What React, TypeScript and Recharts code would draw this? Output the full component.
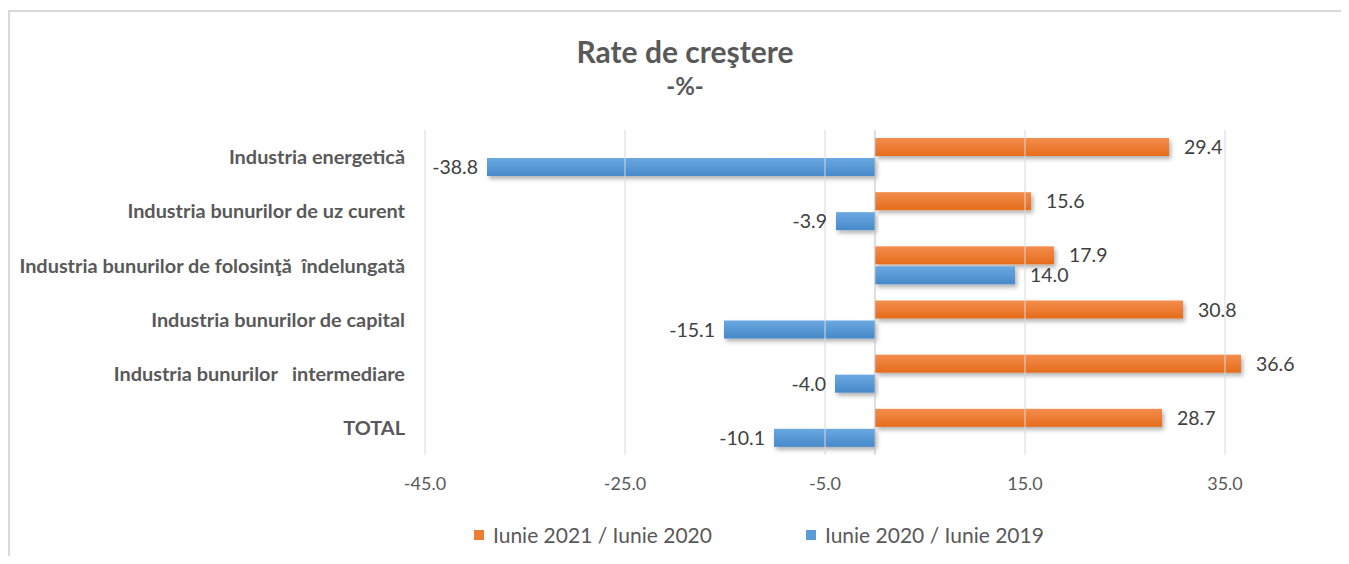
import React from "react";
import {
  ComposedChart,
  Bar,
  XAxis,
  YAxis,
  ReferenceLine,
  LabelList,
} from "recharts";

const categories = [
  "Industria energetică",
  "Industria bunurilor de uz curent",
  "Industria bunurilor de folosinţă  îndelungată",
  "Industria bunurilor de capital",
  "Industria bunurilor   intermediare",
  "TOTAL",
];
const seriesNames = ["Iunie 2021 / Iunie 2020", "Iunie 2020 / Iunie 2019"];
const rate2021 = [29.4, 15.6, 17.9, 30.8, 36.6, 28.7];
const rate2020 = [-38.8, -3.9, 14.0, -15.1, -4.0, -10.1];
const xTicks = [-45, -25, -5, 15, 35];

const data = categories.map((name, i) => ({
  name,
  a: rate2021[i],
  b: rate2020[i],
}));

const FONT = "Lato, 'Liberation Sans', sans-serif";

const BarShape = (props: any) => {
  const { x, y, width, height, fill } = props;
  const x0 = Math.min(x, x + width);
  const w = Math.abs(width);
  return <rect x={x0} y={y} width={w} height={height} fill={fill} filter="url(#barShadow)" />;
};

const ValueLabel = (props: any) => {
  const { x, y, width, height, value } = props;
  const left = Math.min(x, x + width);
  const right = Math.max(x, x + width);
  const neg = value < 0;
  return (
    <text
      x={neg ? left - 9 : right + 15}
      y={y + height / 2}
      dy="0.36em"
      textAnchor={neg ? "end" : "start"}
      fontSize={19.5}
      fontFamily={FONT}
      fill="#404040"
    >
      {Number(value).toFixed(1)}
    </text>
  );
};

const CategoryTick = (props: any) => {
  const { x, y, payload } = props;
  return (
    <text
      x={x}
      y={y}
      dy="0.36em"
      textAnchor="end"
      fontSize={19.9}
      fontWeight={700}
      fontFamily={FONT}
      fill="#595959"
      xmlSpace="preserve"
      style={{ whiteSpace: "pre" }}
    >
      {payload.value}
    </text>
  );
};

export default function App() {
  return (
    <div style={{ position: "relative", width: 1341, height: 548, fontFamily: FONT }}>
      {/* chart border, only top and left visible in the crop */}
      <div
        style={{
          position: "absolute",
          top: 2,
          left: 0,
          width: 1341,
          height: 546,
          borderTop: "2px solid #d9d9d9",
          borderLeft: "2px solid #d9d9d9",
          boxSizing: "border-box",
        }}
      />
      <div
        style={{
          position: "absolute",
          top: 25,
          left: 677,
          transform: "translateX(-50%)",
          fontSize: 30,
          lineHeight: "36px",
          fontWeight: 700,
          color: "#595959",
          whiteSpace: "nowrap",
        }}
      >
        Rate de creştere
      </div>
      <div
        style={{
          position: "absolute",
          top: 63,
          left: 677,
          transform: "translateX(-50%)",
          fontSize: 24,
          lineHeight: "30px",
          fontWeight: 700,
          color: "#595959",
        }}
      >
        -%-
      </div>
      <ComposedChart
        layout="vertical"
        width={1341}
        height={548}
        data={data}
        margin={{ top: 122, right: 24, bottom: 71, left: 0 }}
        barSize={18}
        barGap={2}
      >
        <defs>
          <linearGradient id="gradOrange" x1="0" y1="0" x2="0" y2="1">
            <stop offset="0%" stopColor="#F48D4E" />
            <stop offset="100%" stopColor="#E56C1B" />
          </linearGradient>
          <linearGradient id="gradBlue" x1="0" y1="0" x2="0" y2="1">
            <stop offset="0%" stopColor="#6AA8E0" />
            <stop offset="100%" stopColor="#4689CA" />
          </linearGradient>
          <filter id="barShadow" x="-5%" y="-30%" width="115%" height="180%">
            <feDropShadow dx="2" dy="3" stdDeviation="2" floodColor="#000" floodOpacity="0.3" />
          </filter>
        </defs>
        <XAxis
          type="number"
          domain={[-45, 45]}
          ticks={xTicks}
          tickFormatter={(v: number) => v.toFixed(1)}
          axisLine={false}
          tickLine={false}
          tickSize={0}
          tickMargin={22}
          height={30}
          tick={{ fontSize: 18, fill: "#595959", fontFamily: FONT }}
        />
        <YAxis
          type="category"
          dataKey="name"
          width={417}
          axisLine={false}
          tickLine={false}
          tickSize={0}
          tickMargin={20}
          interval={0}
          tick={<CategoryTick />}
        />
        {/* vertical gridlines at the tick values */}
        {xTicks.map((t) => (
          <ReferenceLine key={t} x={t} stroke="#d9d9d9" strokeWidth={1} />
        ))}
        <ReferenceLine x={0} stroke="#bfbfbf" strokeWidth={1} />
        <Bar dataKey="a" name={seriesNames[0]} fill="url(#gradOrange)" shape={BarShape} isAnimationActive={false}>
          <LabelList dataKey="a" content={ValueLabel} />
        </Bar>
        <Bar dataKey="b" name={seriesNames[1]} fill="url(#gradBlue)" shape={BarShape} isAnimationActive={false}>
          <LabelList dataKey="b" content={ValueLabel} />
        </Bar>
      </ComposedChart>
      <div
        style={{
          position: "absolute",
          top: 515,
          left: 466,
          display: "flex",
          alignItems: "center",
          fontSize: 21,
          lineHeight: "24px",
          color: "#595959",
          whiteSpace: "nowrap",
        }}
      >
        <span style={{ width: 10, height: 10, background: "#ED7D31", marginRight: 9, display: "inline-block" }} />
        <span style={{ marginRight: 94 }}>{seriesNames[0]}</span>
        <span style={{ width: 10, height: 10, background: "#5B9BD5", marginRight: 9, display: "inline-block" }} />
        <span>{seriesNames[1]}</span>
      </div>
    </div>
  );
}
